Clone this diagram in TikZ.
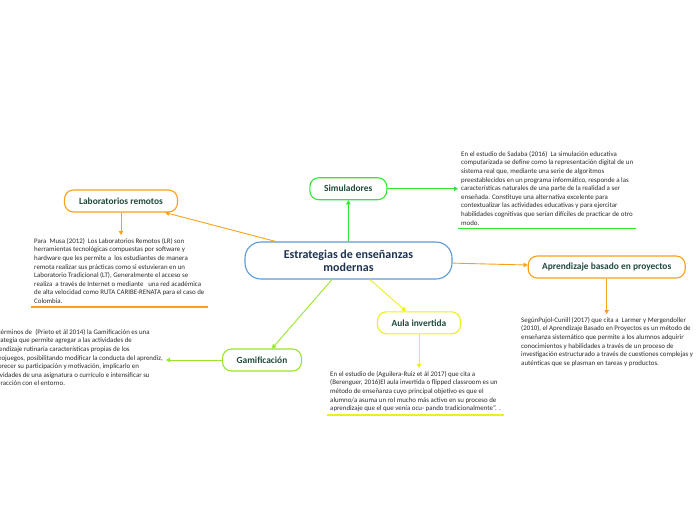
\documentclass[tikz,border=0pt]{standalone}
\usepackage{fontspec}
\setmainfont{Carlito}
\usetikzlibrary{arrows.meta, positioning, calc}
\definecolor{simgreen}{HTML}{33E633}
\definecolor{laborange}{HTML}{F7A21B}
\definecolor{aulayellow}{HTML}{EEEE1E}
\definecolor{gamgreen}{HTML}{99E62E}
\definecolor{centralblue}{HTML}{5B9BD5}
\definecolor{labeltext}{HTML}{1D4A3C}
\definecolor{centraltext}{HTML}{1E3350}
\definecolor{bodytext}{HTML}{2B2B2B}

\begin{document}
\begin{tikzpicture}[x=1pt, y=-1pt,
        tema/.style={rectangle, rounded corners=9pt, draw, line width=1.1pt, fill=white,
            minimum height=22pt, align=center, text=labeltext, font=\fontsize{9.4}{11}\selectfont\bfseries},
        nota/.style={align=left, inner sep=3pt, text=bodytext, font=\fontsize{6.9}{8.6}\selectfont},
        flecha/.style={line width=0.9pt, -{Triangle[length=4pt, width=4.5pt]}}]
        \clip (0,0) rectangle (696,520);
        \fill[white] (0,0) rectangle (696,520);

        % centro
        \node[tema, draw=centralblue, text=centraltext, minimum width=207pt, minimum height=37pt,
            rounded corners=16pt, font=\fontsize{12}{13.3}\selectfont\bfseries] (central) at (348.5,260.5)
            {Estrategias de enseñanzas\\modernas};

        % temas
        \node[tema, draw=simgreen, minimum width=77pt] (sim) at (348.3,188.7) {Simuladores};
        \node[tema, draw=laborange, minimum width=113pt] (lab) at (121,201) {Laboratorios remotos};
        \node[tema, draw=laborange, minimum width=157pt] (apr) at (606.7,267) {Aprendizaje basado en proyectos};
        \node[tema, draw=aulayellow, minimum width=83pt] (aula) at (419,322.8) {Aula invertida};
        \node[tema, draw=gamgreen, minimum width=79pt] (gam) at (262,360) {Gamificación};

        % notas
        \node[nota, anchor=north west] (simtxt) at (458,148)
            {En el estudio de Sadaba (2016)\ \ La simulación educativa\\
            computarizada se define como la representación digital de un\\
            sistema real que, mediante una serie de algoritmos\\
            preestablecidos en un programa informático, responde a las\\
            características naturales de una parte de la realidad a ser\\
            enseñada. Constituye una alternativa excelente para\\
            contextualizar las actividades educativas y para ejercitar\\
            habilidades cognitivas que serían difíciles de practicar de otro\\
            modo.};
        \node[nota, anchor=north west] (labtxt) at (31,235)
            {Para\ \ Musa (2012)\ \ Los Laboratorios Remotos (LR) son\\
            herramientas tecnológicas compuestas por software y\\
            hardware que les permite a\ \ los estudiantes de manera\\
            remota realizar sus prácticas como si estuvieran en un\\
            Laboratorio Tradicional (LT), Generalmente el acceso se\\
            realiza\ \ a través de Internet o mediante\ \ \ una red académica\\
            de alta velocidad como RUTA CARIBE-RENATA para el caso de\\
            Colombia.};
        \node[nota, anchor=north west] (aprtxt) at (518,314)
            {SegúnPujol-Cunill (2017) que cita a\ \ Larmer y Mergendoller\\
            (2010), el Aprendizaje Basado en Proyectos es un método de\\
            enseñanza sistemático que permite a los alumnos adquirir\\
            conocimientos y habilidades a través de un proceso de\\
            investigación estructurado a través de cuestiones complejas y\\
            auténticas que se plasman en tareas y productos.};
        \node[nota, anchor=north west] (aulatxt) at (327,368)
            {En el estudio de (Aguilera-Ruiz et ál 2017) que cita a\\
            (Berenguer, 2016)El aula invertida o flipped classroom es un\\
            método de enseñanza cuyo principal objetivo es que el\\
            alumno/a asuma un rol mucho más activo en su proceso de\\
            aprendizaje que el que venía ocu- pando tradicionalmente''. .};
        \node[nota, anchor=north east] (gamtxt) at (166,326)
            {En términos de\ \ (Prieto et ál 2014) la Gamificación es una\\
            estrategia que permite agregar a las actividades de\\
            aprendizaje rutinaria características propias de los\\
            videojuegos, posibilitando modificar la conducta del aprendiz,\\
            favorecer su participación y motivación, implicarlo en\\
            actividades de una asignatura o currículo e intensificar su\\
            interacción con el entorno.};

        % conectores
        \draw[flecha, simgreen] (central) -- (sim);
        \draw[flecha, laborange] (central) -- (lab);
        \draw[flecha, laborange] (central) -- (apr);
        \draw[flecha, aulayellow] (central) -- (aula);
        \draw[flecha, gamgreen] (central) -- (gam);

        \draw[flecha, simgreen] (sim) -- (sim -| simtxt.west);
        \draw[flecha, laborange] (lab) -- (lab |- labtxt.north);
        \draw[flecha, laborange] (apr) -- (apr |- aprtxt.north);
        \draw[flecha, aulayellow] (aula) -- (aula |- aulatxt.north);
        \draw[flecha, gamgreen] (gam) -- (gam -| gamtxt.east);

        % subrayados
        \draw[simgreen, line width=1.6pt] (simtxt.south west) -- (simtxt.south east);
        \draw[laborange, line width=1.6pt] (labtxt.south west) -- (labtxt.south east);
        \draw[aulayellow, line width=1.6pt] (aulatxt.south west) -- (aulatxt.south east);
    \end{tikzpicture}
\end{document}
